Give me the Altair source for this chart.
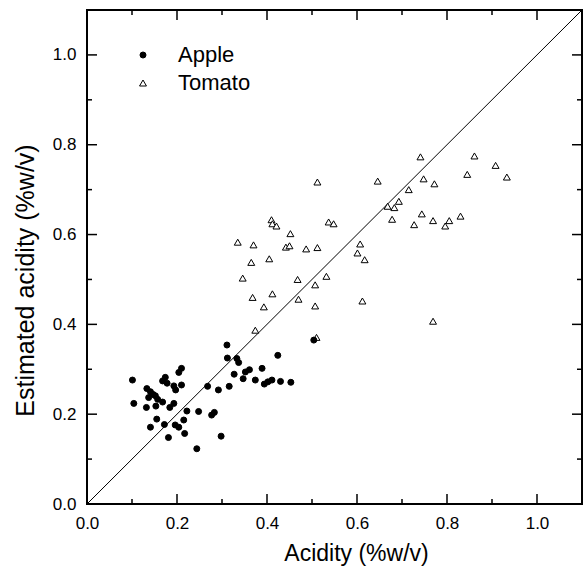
import altair as alt
import pandas as pd

# ---------------- data ----------------
series_names = ["Apple", "Tomato"]

apple_x = [0.101, 0.104, 0.133, 0.137, 0.141, 0.147, 0.152, 0.157, 0.168, 0.132,
           0.153, 0.184, 0.193, 0.174, 0.168, 0.178, 0.193, 0.197, 0.210, 0.210,
           0.204, 0.222, 0.248, 0.155, 0.283, 0.277, 0.215, 0.172, 0.141, 0.196,
           0.204, 0.217, 0.181, 0.298, 0.244, 0.268, 0.292, 0.316, 0.327, 0.347,
           0.352, 0.361, 0.389, 0.374, 0.394, 0.402, 0.411, 0.430, 0.453, 0.311,
           0.312, 0.333, 0.337, 0.424, 0.504]
apple_y = [0.276, 0.224, 0.257, 0.237, 0.250, 0.244, 0.241, 0.233, 0.227, 0.215,
           0.218, 0.215, 0.224, 0.282, 0.274, 0.269, 0.263, 0.254, 0.265, 0.302,
           0.293, 0.207, 0.206, 0.189, 0.204, 0.198, 0.187, 0.177, 0.171, 0.176,
           0.171, 0.157, 0.148, 0.151, 0.123, 0.262, 0.254, 0.262, 0.289, 0.279,
           0.294, 0.299, 0.302, 0.276, 0.267, 0.272, 0.276, 0.273, 0.271, 0.354,
           0.325, 0.324, 0.315, 0.331, 0.365]

tomato_x = [0.741, 0.512, 0.646, 0.715, 0.693, 0.668, 0.683, 0.678, 0.727, 0.410,
            0.412, 0.421, 0.537, 0.548, 0.452, 0.335, 0.370, 0.442, 0.450, 0.487,
            0.512, 0.607, 0.601, 0.617, 0.365, 0.405, 0.346, 0.468, 0.532, 0.507,
            0.368, 0.412, 0.393, 0.470, 0.507, 0.612, 0.374, 0.510,
            0.861, 0.908, 0.845, 0.933, 0.748, 0.772, 0.744, 0.769, 0.805, 0.796,
            0.830, 0.769]
tomato_y = [0.773, 0.717, 0.719, 0.700, 0.674, 0.663, 0.660, 0.634, 0.622, 0.633,
            0.624, 0.619, 0.628, 0.624, 0.602, 0.583, 0.577, 0.572, 0.575, 0.568,
            0.571, 0.579, 0.559, 0.544, 0.538, 0.546, 0.503, 0.500, 0.507, 0.488,
            0.460, 0.468, 0.439, 0.456, 0.441, 0.452, 0.387, 0.371,
            0.775, 0.754, 0.734, 0.728, 0.724, 0.713, 0.646, 0.631, 0.631, 0.619,
            0.641, 0.407]

major_ticks = [0.0, 0.2, 0.4, 0.6, 0.8, 1.0]
minor_ticks = [0.1, 0.3, 0.5, 0.7, 0.9]
axis_domain = [0.0, 1.1]

x_title = "Acidity (%w/v)"
y_title = "Estimated acidity (%w/v)"

# ---------------- layout / style ----------------
W, H = 495, 494
FONT = "Liberation Sans"
MAJOR_LEN, MINOR_LEN = 10, 5

pts = pd.DataFrame({
    "x": tomato_x + apple_x,
    "y": tomato_y + apple_y,
    "series": ["Tomato"] * len(tomato_x) + ["Apple"] * len(apple_x),
})
pts["order"] = list(range(len(pts)))

xs = alt.Scale(domain=axis_domain, nice=False, zero=False)
ys = alt.Scale(domain=axis_domain, nice=False, zero=False)

x_axis = alt.Axis(values=major_ticks, format=".1f", ticks=False, domain=False, grid=False,
                  labelFont=FONT, labelFontSize=17, labelColor="black", labelPadding=11,
                  labelFlush=False, labelOverlap=False,
                  title=x_title, titleFont=FONT, titleFontSize=23, titleFontWeight="normal",
                  titleColor="black", titleX=269, titleY=56, titleAlign="center",
                  titleBaseline="alphabetic")
y_axis = alt.Axis(values=major_ticks, format=".1f", ticks=False, domain=False, grid=False,
                  labelFont=FONT, labelFontSize=17, labelColor="black", labelPadding=11,
                  labelFlush=False, labelOverlap=False,
                  title=y_title, titleFont=FONT, titleFontSize=25, titleFontWeight="normal",
                  titleColor="black", titleAngle=270, titleX=-54, titleY=270,
                  titleAlign="center", titleBaseline="alphabetic")

legend = alt.Legend(title=None, orient="none", legendX=45, legendY=34, padding=0,
                    labelFont=FONT, labelFontSize=22, labelColor="black",
                    labelOffset=24, rowPadding=6,
                    symbolStrokeColor="black", symbolStrokeWidth=1)


def tick_layers(vals, length):
    d = pd.DataFrame({"x": vals, "y": vals})
    base = alt.Chart(d).mark_rule(color="black", strokeWidth=1.5)
    return [
        base.encode(x=alt.X("x:Q", scale=xs, axis=x_axis), y=alt.value(H), y2=alt.value(H - length)),
        base.encode(x=alt.X("x:Q", scale=xs, axis=x_axis), y=alt.value(0), y2=alt.value(length)),
        base.encode(y=alt.Y("y:Q", scale=ys, axis=y_axis), x=alt.value(0), x2=alt.value(length)),
        base.encode(y=alt.Y("y:Q", scale=ys, axis=y_axis), x=alt.value(W), x2=alt.value(W - length)),
    ]


diag = alt.Chart(pd.DataFrame({"x": axis_domain, "y": axis_domain})).mark_line(
    color="black", strokeWidth=1
).encode(
    x=alt.X("x:Q", scale=xs, axis=x_axis),
    y=alt.Y("y:Q", scale=ys, axis=y_axis),
)

points = alt.Chart(pts).mark_point(filled=True, strokeWidth=1, opacity=1).encode(
    x=alt.X("x:Q", scale=xs, axis=x_axis),
    y=alt.Y("y:Q", scale=ys, axis=y_axis),
    shape=alt.Shape("series:N", scale=alt.Scale(domain=series_names, range=["circle", "triangle-up"]),
                    legend=legend),
    fill=alt.Fill("series:N", scale=alt.Scale(domain=series_names, range=["black", "white"]),
                  legend=legend),
    stroke=alt.Stroke("series:N", scale=alt.Scale(domain=series_names, range=["black", "black"]),
                      legend=legend),
    size=alt.Size("series:N", scale=alt.Scale(domain=series_names, range=[36, 48]), legend=legend),
    order=alt.Order("order:Q"),
)

chart = alt.layer(
    *tick_layers(major_ticks, MAJOR_LEN),
    *tick_layers(minor_ticks, MINOR_LEN),
    diag,
    points,
).properties(
    width=W,
    height=H,
    autosize=alt.AutoSizeParams(type="none"),
    padding={"left": 87, "top": 10, "right": 1, "bottom": 67},
    background="white",
).configure_view(stroke="black", strokeWidth=2)

chart.save("out.html", embed_options={"renderer": "svg", "actions": False})
